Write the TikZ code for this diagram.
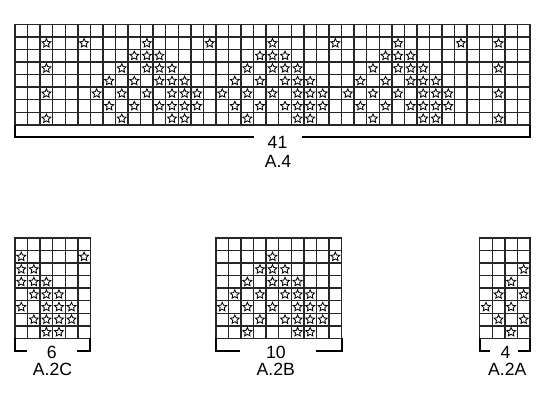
\documentclass[tikz,border=0pt]{standalone}
\usepackage{fontspec}
\setmainfont{Liberation Sans}
\usetikzlibrary{shapes.geometric}

\tikzset{
  gridline/.style={black!85, line width=1.6pt},
  stitch/.style={star, star points=5, star point ratio=2.1, draw=black, line width=0.95pt, inner sep=0pt, minimum size=0.37cm},
  bracket/.style={black, line width=2.3pt},
  chartlabel/.style={inner sep=0pt, text=black, font=\fontsize{20pt}{24pt}\selectfont}
}

% one repeat of A.2B: column/row, row 0 at the top
\newcommand{\patB}{4/1,9/1,3/2,4/2,5/2,2/3,4/3,5/3,6/3,1/4,3/4,5/4,6/4,7/4,0/5,2/5,4/5,6/5,7/5,8/5,1/6,3/6,5/6,6/6,7/6,8/6,2/7,6/7,7/7}

\begin{document}
\begin{tikzpicture}[x=0.5cm,y=0.5cm]
\useasboundingbox (-1.194,1.943) rectangle (42.596,-29.98);

% A.4
\draw[gridline, step=0.5cm] (0,-8) grid (41,0);
\draw[gridline] (0,-8) rectangle (41,0);
\foreach \o in {6,16,26}
  \foreach \c/\r in \patB
    \node[stitch] (a-\o-\c-\r) at (\o+\c+0.5,-\r-0.5) {};
\foreach \c/\r in {2/1,5/1,38/1,2/3,38/3,2/5,38/5,2/7,38/7}
  \node[stitch] (ax-\c-\r) at (\c+0.5,-\r-0.5) {};

\draw[bracket] (0,-8) -- (0,-8.94) -- (19,-8.94);
\draw[bracket] (22.83,-8.94) -- (41,-8.94) -- (41,-8);
\node[chartlabel] (w4) at (20.9,-9.36) {41};
\node[chartlabel] (n4) at (20.94,-10.9) {A.4};

% A.2C
\draw[gridline, step=0.5cm] (0,-25) grid (6,-17);
\draw[gridline] (0,-25) rectangle (6,-17);
\foreach \c/\r in \patB {
  \ifnum\c>3 \node[stitch] (c-\c-\r) at (\c-3.5,-\r-17.5) {};\fi
}
\draw[bracket] (0,-25) -- (0,-26) -- (0.93,-26);
\draw[bracket] (4.96,-26) -- (6,-26) -- (6,-25);
\node[chartlabel] (w2c) at (2.92,-26.1) {6};
\node[chartlabel] (n2c) at (2.99,-27.48) {A.2C};

% A.2B
\draw[gridline, step=0.5cm] (16,-25) grid (26,-17);
\draw[gridline] (16,-25) rectangle (26,-17);
\foreach \c/\r in \patB
  \node[stitch] (b-\c-\r) at (\c+16.5,-\r-17.5) {};
\draw[bracket] (16,-25) -- (16,-26) -- (17.9,-26);
\draw[bracket] (23.96,-26) -- (26,-26) -- (26,-25);
\node[chartlabel] (w2b) at (20.78,-26.1) {10};
\node[chartlabel] (n2b) at (20.76,-27.48) {A.2B};

% A.2A
\draw[gridline, step=0.5cm] (37,-25) grid (41,-17);
\draw[gridline] (37,-25) rectangle (41,-17);
\foreach \c/\r in \patB {
  \ifnum\c<4 \node[stitch] (d-\c-\r) at (\c+37.5,-\r-17.5) {};\fi
}
\draw[bracket] (37,-25) -- (37,-26) -- (37.82,-26);
\draw[bracket] (40.07,-26) -- (41,-26) -- (41,-25);
\node[chartlabel] (w2a) at (39.05,-26.1) {4};
\node[chartlabel] (n2a) at (39.2,-27.48) {A.2A};

\end{tikzpicture}
\end{document}
